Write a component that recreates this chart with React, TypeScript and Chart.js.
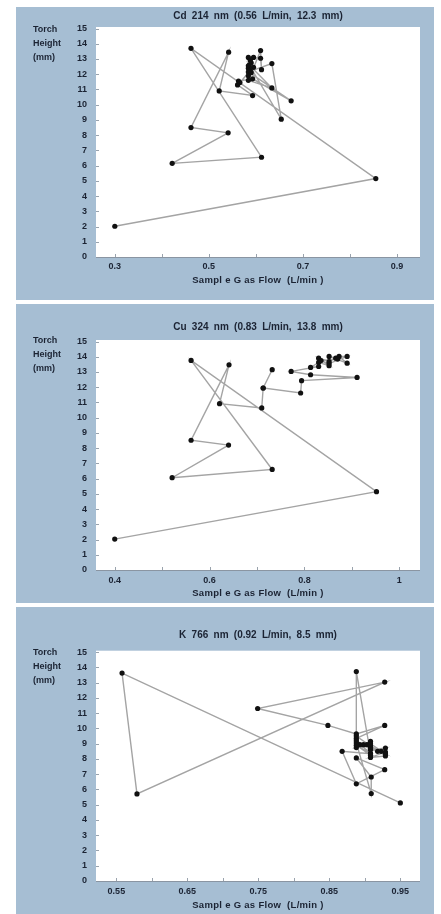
import React, { useEffect, useRef } from "react";
import { Chart, registerables } from "chart.js";

Chart.register(...registerables);

// ---------- Data ----------
// Panel 1: Cd 214 nm
const cdFlow = [0.300, 0.855, 0.462, 0.612, 0.422, 0.541, 0.462, 0.542, 0.522, 0.593, 0.561, 0.563, 0.593, 0.675, 0.584, 0.634, 0.654, 0.586, 0.634, 0.584, 0.610, 0.612, 0.610, 0.584, 0.595, 0.584, 0.588, 0.590, 0.584, 0.590, 0.584, 0.595, 0.566, 0.588];
const cdHeight = [2.02, 5.15, 13.7, 6.55, 6.15, 8.15, 8.5, 13.45, 10.9, 10.6, 11.3, 11.55, 11.7, 10.25, 12.15, 12.7, 9.05, 12.6, 11.1, 11.6, 13.55, 12.3, 13.05, 13.1, 13.1, 12.4, 12.9, 12.1, 11.9, 12.75, 12.55, 12.45, 11.45, 12.25];
const cdTicks = [0.3, 0.4, 0.5, 0.6, 0.7, 0.8, 0.9];
const cdTickLabels = ["0.3", "", "0.5", "", "0.7", "", "0.9"];

// Panel 2: Cu 324 nm
const cuFlow = [0.400, 0.952, 0.561, 0.732, 0.521, 0.640, 0.561, 0.641, 0.621, 0.710, 0.713, 0.732, 0.713, 0.792, 0.794, 0.911, 0.813, 0.772, 0.830, 0.813, 0.830, 0.852, 0.830, 0.852, 0.866, 0.852, 0.890, 0.873, 0.890, 0.852, 0.835, 0.870];
const cuHeight = [2.03, 5.14, 13.76, 6.6, 6.06, 8.2, 8.52, 13.47, 10.92, 10.64, 11.95, 13.15, 11.95, 11.62, 12.43, 12.64, 12.82, 13.04, 13.36, 13.3, 13.63, 13.41, 13.91, 13.69, 13.91, 14.02, 13.58, 14.02, 14.02, 13.55, 13.75, 13.85];
const cuTicks = [0.4, 0.5, 0.6, 0.7, 0.8, 0.9, 1.0];
const cuTickLabels = ["0.4", "", "0.6", "", "0.8", "", "1"];

// Panel 3: K 766 nm
const kFlow = [0.950, 0.558, 0.579, 0.928, 0.749, 0.848, 0.888, 0.928, 0.888, 0.888, 0.908, 0.868, 0.888, 0.928, 0.888, 0.909, 0.909, 0.888, 0.898, 0.908, 0.888, 0.908, 0.918, 0.929, 0.908, 0.929, 0.908, 0.929, 0.888, 0.893, 0.888, 0.908, 0.888, 0.908, 0.903, 0.923, 0.908, 0.929, 0.908];
const kHeight = [5.12, 13.63, 5.71, 13.04, 11.31, 10.2, 9.64, 10.2, 9.35, 13.73, 8.35, 8.5, 6.37, 7.3, 8.07, 6.82, 5.73, 9.05, 8.94, 9.15, 8.75, 8.85, 8.5, 8.72, 8.6, 8.45, 8.1, 8.2, 9.5, 8.94, 9.2, 8.35, 8.9, 8.25, 8.94, 8.5, 8.72, 8.35, 9.0];
const kTicks = [0.55, 0.6, 0.65, 0.7, 0.75, 0.8, 0.85, 0.9, 0.95];
const kTickLabels = ["0.55", "", "0.65", "", "0.75", "", "0.85", "", "0.95"];

const heightTicks = [0, 1, 2, 3, 4, 5, 6, 7, 8, 9, 10, 11, 12, 13, 14, 15];
const heightTickLabels = ["0", "1", "2", "3", "4", "5", "6", "7", "8", "9", "10", "11", "12", "13", "14", "15"];

const titles = [
  "Cd 214 nm (0.56 L/min, 12.3 mm)",
  "Cu 324 nm (0.83 L/min, 13.8 mm)",
  "K 766 nm (0.92 L/min, 8.5 mm)",
];
const xAxisTitle = "Sampl e G as Flow  (L/min )";
const yAxisTitle = ["Torch", "Height", "(mm)"];

// ---------- Styles ----------
const BLUE = "#a6bed3";
const TEXT = "#1b2333";
const FONT = "'Liberation Sans', Arial, sans-serif";

const panels = [
  { flow: cdFlow, height: cdHeight, ticks: cdTicks, labels: cdTickLabels, xMin: 0.26, xMax: 0.949, title: titles[0], top: 7, h: 293, padTop: 20, xAxisH: 43, tickPad: 4, titleY: 15.7, xTitleY: 280, yTitleY: 29.3 },
  { flow: cuFlow, height: cuHeight, ticks: cuTicks, labels: cuTickLabels, xMin: 0.3605, xMax: 1.0437, title: titles[1], top: 304, h: 299, padTop: 36, xAxisH: 33, tickPad: 5, titleY: 326.7, xTitleY: 593, yTitleY: 340 },
  { flow: kFlow, height: kHeight, ticks: kTicks, labels: kTickLabels, xMin: 0.5213, xMax: 0.9777, title: titles[2], top: 607, h: 307, padTop: 43.7, xAxisH: 33, tickPad: 5, titleY: 635, xTitleY: 905, yTitleY: 652 },
];

const areaPlugin = {
  id: "areaDeco",
  beforeDatasetsDraw(chart: any) {
    const { ctx, chartArea: a, scales } = chart;
    ctx.save();
    ctx.fillStyle = "#ffffff";
    ctx.fillRect(a.left, a.top, a.right - a.left, a.bottom - a.top);
    ctx.strokeStyle = "#9aa3ad";
    ctx.lineWidth = 1;
    ctx.beginPath();
    for (const t of scales.y.ticks) {
      const y = Math.round(scales.y.getPixelForValue(t.value)) + 0.5;
      ctx.moveTo(a.left, y);
      ctx.lineTo(a.left + 3, y);
    }
    for (const t of scales.x.ticks) {
      const x = Math.round(scales.x.getPixelForValue(t.value)) + 0.5;
      ctx.moveTo(x, a.bottom);
      ctx.lineTo(x, a.bottom - 3);
    }
    ctx.stroke();
    ctx.strokeStyle = "#8a95a2";
    ctx.beginPath();
    ctx.moveTo(a.left, Math.round(a.bottom) + 0.5);
    ctx.lineTo(a.right, Math.round(a.bottom) + 0.5);
    ctx.stroke();
    ctx.restore();
  },
};

function Panel(p: any) {
  const ref = useRef<HTMLCanvasElement | null>(null);
  useEffect(() => {
    if (!ref.current) return;
    const chart = new Chart(ref.current, {
      type: "scatter",
      data: {
        datasets: [
          {
            data: p.flow.map((x: number, i: number) => ({ x, y: p.height[i] })),
            showLine: true,
            borderColor: "#a4a4a4",
            borderWidth: 1.4,
            pointRadius: 2.6,
            pointBackgroundColor: "#111111",
            pointBorderColor: "#111111",
            pointBorderWidth: 0,
            tension: 0,
          },
        ],
      },
      options: {
        responsive: false,
        animation: false,
        devicePixelRatio: 1,
        layout: { padding: { top: p.padTop, right: 14, left: 0, bottom: 0 } },
        plugins: { legend: { display: false }, tooltip: { enabled: false }, title: { display: false } },
        scales: {
          x: {
            type: "linear",
            min: p.xMin,
            max: p.xMax,
            grid: { display: false, drawTicks: false, tickLength: 0 },
            border: { display: false },
            afterBuildTicks: (s: any) => {
              s.ticks = p.ticks.map((v: number) => ({ value: v }));
            },
            afterFit: (s: any) => {
              s.height = p.xAxisH;
            },
            ticks: {
              autoSkip: false,
              maxRotation: 0,
              padding: p.tickPad,
              color: TEXT,
              font: { family: FONT, size: 9, weight: "bold" },
              callback: (_v: any, i: number) => p.labels[i],
            },
          },
          y: {
            type: "linear",
            min: 0,
            max: 15.1,
            grid: { display: false, drawTicks: false, tickLength: 0 },
            border: { display: false },
            afterBuildTicks: (s: any) => {
              s.ticks = heightTicks.map((v) => ({ value: v }));
            },
            afterFit: (s: any) => {
              s.width = 80;
            },
            ticks: {
              padding: 9,
              color: TEXT,
              font: { family: FONT, size: 9, weight: "bold" },
              callback: (_v: any, i: number) => heightTickLabels[i],
            },
          },
        },
      } as any,
      plugins: [areaPlugin],
    });
    return () => chart.destroy();
  }, []);

  const textBase: any = { position: "absolute", fontFamily: FONT, fontWeight: "bold", color: TEXT, whiteSpace: "pre" };
  return (
    <div style={{ position: "absolute", left: 16, top: p.top, width: 418, height: p.h, background: BLUE }}>
      <canvas ref={ref} width={418} height={p.h} style={{ position: "absolute", left: 0, top: 0, width: 418, height: p.h }} />
      <div style={{ ...textBase, left: 80, width: 324, top: p.titleY - p.top - 7, height: 14, lineHeight: "14px", textAlign: "center", fontSize: 10, wordSpacing: 2.5 }}>
        {p.title}
      </div>
      <div style={{ ...textBase, left: 80, width: 324, top: p.xTitleY - p.top - 7, height: 14, lineHeight: "14px", textAlign: "center", fontSize: 9.5, letterSpacing: 0.3 }}>
        {xAxisTitle}
      </div>
      <div style={{ ...textBase, left: 17, top: p.yTitleY - p.top - 7, lineHeight: "14px", fontSize: 9 }}>
        {yAxisTitle.map((t, i) => (
          <div key={i}>{t}</div>
        ))}
      </div>
    </div>
  );
}

export default function App() {
  return (
    <div style={{ position: "absolute", left: 0, top: 0, width: 441, height: 914, background: "#ffffff", overflow: "hidden" }}>
      {panels.map((p, i) => (
        <Panel key={i} {...p} />
      ))}
    </div>
  );
}
